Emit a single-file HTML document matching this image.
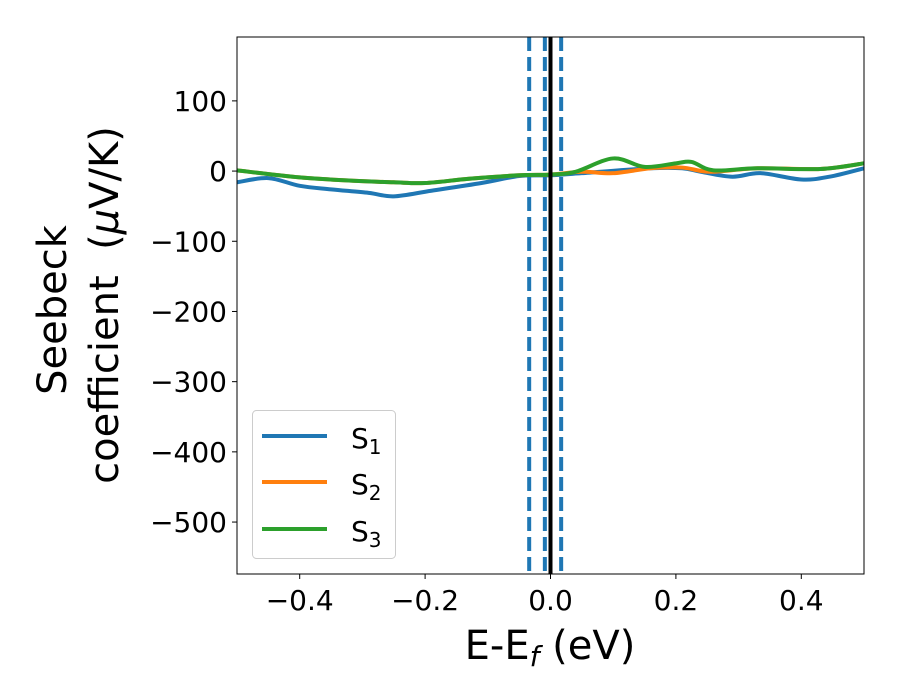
<!DOCTYPE html>
<html><head><meta charset="utf-8"><style>
html,body{margin:0;padding:0;background:#fff;}
svg{display:block;font-family:"DejaVu Sans","Liberation Sans",sans-serif;}
</style></head><body>
<svg id="chart" width="900" height="700" viewBox="0 0 900 700"></svg>
<script>
const xTicks=[-0.4,-0.2,0.0,0.2,0.4];
const xTickLabels=["\u22120.4","\u22120.2","0.0","0.2","0.4"];
const yTicks=[100,0,-100,-200,-300,-400,-500];
const yTickLabels=["100","0","\u2212100","\u2212200","\u2212300","\u2212400","\u2212500"];
const s1X=[-0.5,-0.45,-0.4,-0.35,-0.29,-0.25,-0.19,-0.11,-0.05,0,0.05,0.16,0.21,0.24,0.29,0.335,0.4,0.445,0.5];
const s1Y=[-16,-10,-21,-26,-31,-36,-28,-17,-7,-6,-3,4,4,-1,-8,-3,-12,-8,4];
const s2X=[-0.5,-0.4,-0.31,-0.25,-0.2,-0.13,-0.05,0,0.05,0.1,0.16,0.21,0.255,0.33,0.43,0.5];
const s2Y=[1,-9,-14,-16,-17,-11,-6,-5,-1,-3,4,5,-1,4,3,11];
const s3X=[-0.5,-0.4,-0.31,-0.25,-0.2,-0.13,-0.05,0,0.04,0.1,0.15,0.2,0.225,0.26,0.33,0.43,0.5];
const s3Y=[1,-9,-14,-16,-17,-11,-6,-5,-1,18,6,11,13,1,4,3,11];
const vDashed=[-0.034,-0.009,0.017];
const vSolid=[0];

const svg=document.getElementById('chart');
const NS='http://www.w3.org/2000/svg';
const L=237,R=864,T=37,B=574;
const xMin=-0.5,xMax=0.5,yMin=-574,yMax=191;
const xs=v=>L+(v-xMin)/(xMax-xMin)*(R-L);
const ys=v=>B-(v-yMin)/(yMax-yMin)*(B-T);
function mk(tag,attrs,parent){const e=document.createElementNS(NS,tag);for(const k in attrs)e.setAttribute(k,attrs[k]);(parent||svg).appendChild(e);return e;}

const defs=mk('defs',{});
const cp=mk('clipPath',{id:'clip'},defs);
mk('rect',{x:L,y:T,width:R-L,height:B-T},cp);

function smooth(X,Y){
  const p=X.map((x,i)=>[xs(x),ys(Y[i])]);
  let d='M'+p[0][0]+','+p[0][1];
  for(let i=0;i<p.length-1;i++){
    const p0=p[i-1]||p[i],p1=p[i],p2=p[i+1],p3=p[i+2]||p2;
    const c1=[p1[0]+(p2[0]-p0[0])/6,p1[1]+(p2[1]-p0[1])/6];
    const c2=[p2[0]-(p3[0]-p1[0])/6,p2[1]-(p3[1]-p1[1])/6];
    d+=' C'+c1[0]+','+c1[1]+' '+c2[0]+','+c2[1]+' '+p2[0]+','+p2[1];
  }
  return d;
}
const g=mk('g',{'clip-path':'url(#clip)'});
const series=[[s1X,s1Y,'#1f77b4','series-s1'],[s2X,s2Y,'#ff7f0e','series-s2'],[s3X,s3Y,'#2ca02c','series-s3']];
series.forEach(s=>{
  const p=mk('path',{d:smooth(s[0],s[1]),fill:'none',stroke:s[2],'stroke-width':4,'stroke-linejoin':'round'},g);
  
  
});
vDashed.forEach(v=>{
  const l=mk('line',{x1:xs(v),x2:xs(v),y1:T,y2:B,stroke:'#1f77b4','stroke-width':4,'stroke-dasharray':'14,6'},g);
  
  
});
vSolid.forEach(v=>{
  const l=mk('line',{x1:xs(v),x2:xs(v),y1:T,y2:B,stroke:'#000','stroke-width':4},g);
  
  
});
const frame=mk('rect',{x:L,y:T,width:R-L,height:B-T,fill:'none',stroke:'#000','stroke-width':1});



xTicks.forEach((v,i)=>{
  mk('line',{x1:xs(v),x2:xs(v),y1:B,y2:B+5,stroke:'#000'});
  const t=mk('text',{x:xs(v),y:B+36,'text-anchor':'middle','font-size':28});
  t.textContent=xTickLabels[i];
  
  
});
yTicks.forEach((v,i)=>{
  mk('line',{x1:L-5,x2:L,y1:ys(v),y2:ys(v),stroke:'#000'});
  const t=mk('text',{x:L-10,y:ys(v)+10,'text-anchor':'end','font-size':28});
  t.textContent=yTickLabels[i];
  
  
});
</script>
<svg style="position:absolute;left:0;top:0" width="900" height="700">
<text x="550" y="659" text-anchor="middle" font-size="40" font-family="DejaVu Sans, sans-serif">E-E<tspan font-size="28" dy="7" font-style="italic">f</tspan><tspan dy="-7"> (eV)</tspan></text>
<g transform="translate(66,305) rotate(-90)" font-size="40" font-family="DejaVu Sans, sans-serif">
<text x="-5" y="0" text-anchor="middle">Seebeck</text>
<text x="0" y="52" text-anchor="middle">coefficient&#160; (<tspan font-style="italic">μ</tspan>V/K)</text>
</g>
<g font-family="DejaVu Sans, sans-serif">
<rect x="252.5" y="410.5" width="143" height="148" rx="4" fill="#fff" fill-opacity="0.8" stroke="#ccc"/>
<line x1="262" x2="327" y1="436" y2="436" stroke="#1f77b4" stroke-width="4"/>
<text x="351" y="448" font-size="28">S<tspan font-size="20" dy="6">1</tspan></text>
<line x1="262" x2="327" y1="482" y2="482" stroke="#ff7f0e" stroke-width="4"/>
<text x="351" y="494" font-size="28">S<tspan font-size="20" dy="6">2</tspan></text>
<line x1="262" x2="327" y1="529" y2="529" stroke="#2ca02c" stroke-width="4"/>
<text x="351" y="541" font-size="28">S<tspan font-size="20" dy="6">3</tspan></text>
</g>
</svg>
</body></html>
